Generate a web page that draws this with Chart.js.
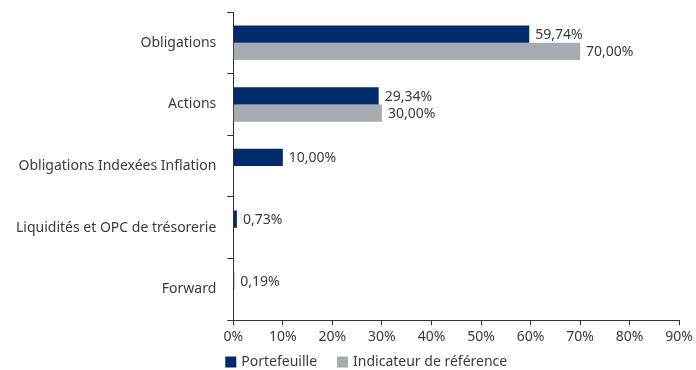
<!DOCTYPE html>
<html>
<head>
<meta charset="utf-8">
<script src="https://cdn.jsdelivr.net/npm/chart.js@4"></script>
<style>
  html, body { margin: 0; padding: 0; background: #fff; }
  #wrap { width: 696px; height: 370px; }
</style>
</head>
<body>
<div id="wrap"><canvas id="allocChart"></canvas></div>
<script>
// Répartition par classe d'actifs : portefeuille vs indicateur de référence (en %)
const categories = [
    'Obligations',
    'Actions',
    'Obligations Indexées Inflation',
    'Liquidités et OPC de trésorerie',
    'Forward'
];
const portefeuille = [59.74, 29.34, 10.00, 0.73, 0.19];
const indicateur   = [70.00, 30.00, null, null, null];
const xTicks = [0, 10, 20, 30, 40, 50, 60, 70, 80, 90];

const NAVY = '#022b6b';
const GREY = '#a6acb0';
const TEXT = '#3a3a3a';
const FONT = { family: '"Noto Sans", sans-serif', size: 14 };

// Writes the value next to the end of each bar, French decimal comma.
const valueLabels = {
    id: 'valueLabels',
    afterDatasetsDraw(chart) {
        const ctx = chart.ctx;
        ctx.save();
        ctx.font = `${FONT.size}px ${FONT.family}`;
        ctx.fillStyle = TEXT;
        ctx.textAlign = 'left';
        ctx.textBaseline = 'middle';
        chart.data.datasets.forEach((ds, i) => {
            const meta = chart.getDatasetMeta(i);
            meta.data.forEach((bar, j) => {
                const v = ds.data[j];
                if (v === null || v === undefined) return;
                const txt = v.toFixed(2).replace('.', ',') + '%';
                ctx.fillText(txt, bar.x + 6, bar.y + 1);
            });
        });
        ctx.restore();
    }
};

// Legend row under the x axis, starting just left of the plot area.
const legendBelow = {
    id: 'legendBelow',
    afterDraw(chart) {
        const ctx = chart.ctx;
        const box = 11;
        let x = chart.chartArea.left - 8;
        const y = chart.height - 8;
        ctx.save();
        ctx.font = `${FONT.size}px ${FONT.family}`;
        ctx.textBaseline = 'middle';
        ctx.textAlign = 'left';
        chart.data.datasets.forEach(ds => {
            ctx.fillStyle = ds.backgroundColor;
            ctx.fillRect(x, y - box / 2, box, box);
            x += box + 5;
            ctx.fillStyle = TEXT;
            ctx.fillText(ds.label, x, y);
            x += ctx.measureText(ds.label).width + 20;
        });
        ctx.restore();
    }
};

new Chart(document.getElementById('allocChart'), {
    type: 'bar',
    data: {
        labels: categories,
        datasets: [
            { label: 'Portefeuille', data: portefeuille, backgroundColor: NAVY,
              categoryPercentage: 0.56, barPercentage: 1.0 },
            { label: 'Indicateur de référence', data: indicateur, backgroundColor: GREY,
              categoryPercentage: 0.56, barPercentage: 1.0 }
        ]
    },
    options: {
        indexAxis: 'y',
        responsive: true,
        maintainAspectRatio: false,
        animation: false,
        layout: { padding: { top: 12, left: 5, right: 0, bottom: 22 } },
        plugins: {
            legend: { display: false },
            tooltip: { enabled: false }
        },
        scales: {
            x: {
                min: 0, max: 90,
                afterBuildTicks: axis => { axis.ticks = xTicks.map(v => ({ value: v })); },
                ticks: { callback: v => v + '%', color: TEXT, font: FONT, padding: 3, maxRotation: 0 },
                grid: { drawOnChartArea: false, drawTicks: true, tickLength: 5, color: '#333' },
                border: { display: true, color: '#333', width: 1 }
            },
            y: {
                // labels sit mid-category, so no extra room is needed above the first one
                afterFit: axis => { axis.paddingTop = 0; axis.paddingBottom = 0; },
                ticks: { color: TEXT, font: FONT, padding: 11 },
                grid: { drawOnChartArea: false, drawTicks: true, tickLength: 6, offset: true, color: '#333' },
                border: { display: true, color: '#333', width: 1 }
            }
        }
    },
    plugins: [valueLabels, legendBelow]
});
</script>
</body>
</html>
